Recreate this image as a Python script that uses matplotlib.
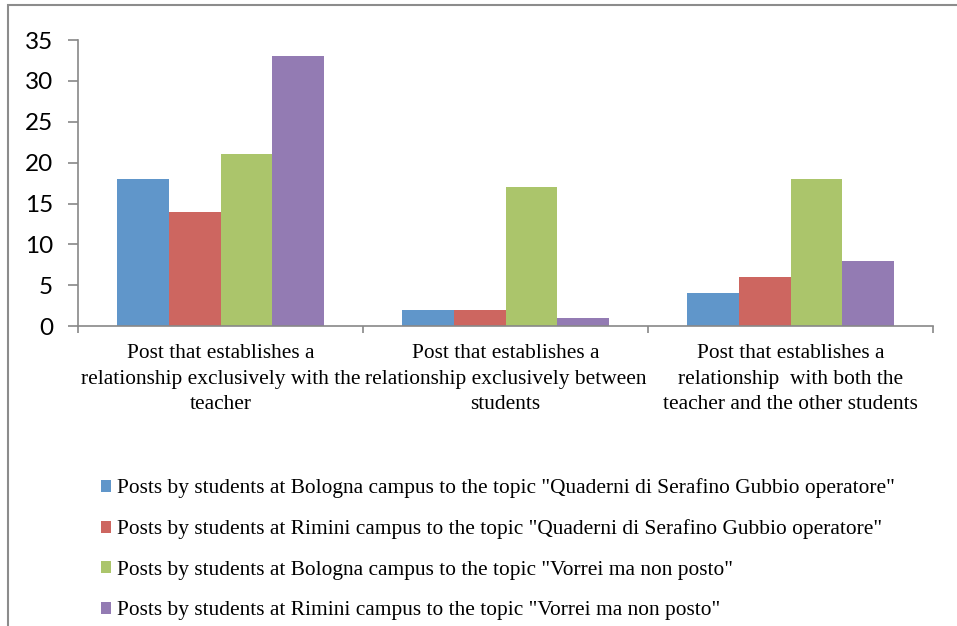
import numpy as np
import matplotlib.pyplot as plt
from matplotlib.patches import Rectangle

categories = ['Post that establishes a\nrelationship exclusively with the\nteacher',
              'Post that establishes a\nrelationship exclusively between\nstudents',
              'Post that establishes a\nrelationship  with both the\nteacher and the other students']
series_names = ['Posts by students at Bologna campus to the topic "Quaderni di Serafino Gubbio operatore"',
                'Posts by students at Rimini campus to the topic "Quaderni di Serafino Gubbio operatore"',
                'Posts by students at Bologna campus to the topic "Vorrei ma non posto"',
                'Posts by students at Rimini campus to the topic "Vorrei ma non posto"']
bologna_quaderni = [18, 2, 4]
rimini_quaderni = [14, 2, 6]
bologna_vorrei = [21, 17, 18]
rimini_vorrei = [33, 1, 8]
yticks = [0, 5, 10, 15, 20, 25, 30, 35]

colors = ['#6096CA', '#CD6660', '#ABC56B', '#937BB3']
series = [bologna_quaderni, rimini_quaderni, bologna_vorrei, rimini_vorrei]
axis_grey = '#888888'

fig = plt.figure(figsize=(9.57, 6.26), dpi=100)
ax = fig.add_axes([0.0815, 0.479, 0.8935, 0.457])

x = np.arange(len(categories))
w = 0.182
for i, (vals, name) in enumerate(zip(series, series_names)):
    ax.bar(x + (i - 1.5) * w, vals, width=w, color=colors[i], label=name,
           edgecolor='none', linewidth=0)

ax.set_xlim(-0.5, 2.5)
ax.set_ylim(0, 35)
ax.set_yticks(yticks)
ax.set_yticklabels([str(t) for t in yticks], family='Lato', fontsize=17.5)
ax.tick_params(axis='y', direction='out', length=7, width=1.2, color=axis_grey, pad=11)

ax.set_xticks(x)
ax.set_xticklabels(categories, family='Liberation Serif', fontsize=15.4, linespacing=1.45)
ax.set_xticks([-0.5, 0.5, 1.5, 2.5], minor=True)
ax.tick_params(axis='x', which='major', length=0, pad=13)
ax.tick_params(axis='x', which='minor', direction='out', length=5, width=1.2, color=axis_grey)

for s in ['top', 'right']:
    ax.spines[s].set_visible(False)
for s in ['left', 'bottom']:
    ax.spines[s].set_color(axis_grey)
    ax.spines[s].set_linewidth(1.2)

leg = fig.legend(loc='upper left', bbox_to_anchor=(0.1055, 0.236), frameon=False,
                 prop={'family': 'Liberation Serif', 'size': 15.4},
                 handlelength=0.48, handleheight=0.48, handletextpad=0.25,
                 labelspacing=1.0, borderaxespad=0, borderpad=0)

# outer chart frame
fig.add_artist(Rectangle((8 / 957, -0.2), 1.2, 1.2 - 5 / 626, transform=fig.transFigure,
                         fill=False, edgecolor='#8c8c8c', linewidth=1.5))

fig.savefig('out.png', dpi=100)
